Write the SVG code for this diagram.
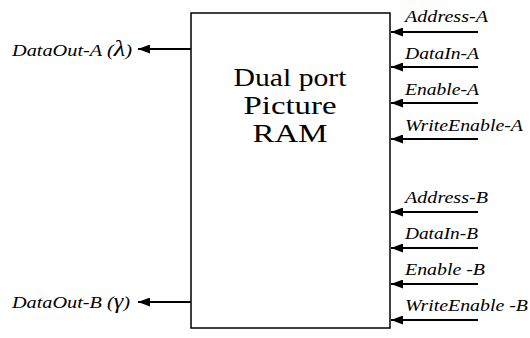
<svg xmlns="http://www.w3.org/2000/svg" width="530" height="338" viewBox="0 0 530 338">
  <style>
    .lbl { font-family: "Liberation Serif", "Times New Roman", serif; font-style: italic; font-size: 17.5px; fill: #000; }
    .title { font-family: "Liberation Serif", "Times New Roman", serif; font-size: 24.5px; fill: #000; text-anchor: middle; }
    .wire { stroke: #000; stroke-width: 2; fill: none; marker-end: url(#head); }
    .box { fill: #fff; stroke: #000; stroke-width: 1.5; }
  </style>
  <defs>
    <marker id="head" viewBox="0 0 12 9" refX="12" refY="4.5" markerWidth="12" markerHeight="9" markerUnits="userSpaceOnUse" orient="auto">
      <path d="M0,0 L12,4.5 L0,9 Z" fill="#000"/>
    </marker>
  </defs>
  <rect width="530" height="338" fill="#fff"/>

  <g id="ram">
    <rect class="box" x="191" y="13" width="199" height="315"/>
    <text class="title" x="290" y="86" textLength="113" lengthAdjust="spacingAndGlyphs">Dual port</text>
    <text class="title" x="290" y="114" textLength="93" lengthAdjust="spacingAndGlyphs">Picture</text>
    <text class="title" x="290" y="142" textLength="75" lengthAdjust="spacingAndGlyphs">RAM</text>
  </g>

  <g id="connectors">
    <line class="wire" x1="478" y1="32" x2="391" y2="32"/>
    <line class="wire" x1="478" y1="67" x2="391" y2="67"/>
    <line class="wire" x1="478" y1="103" x2="391" y2="103"/>
    <line class="wire" x1="478" y1="139" x2="391" y2="139"/>
    <line class="wire" x1="478" y1="212" x2="391" y2="212"/>
    <line class="wire" x1="478" y1="248" x2="391" y2="248"/>
    <line class="wire" x1="478" y1="284" x2="391" y2="284"/>
    <line class="wire" x1="478" y1="320" x2="391" y2="320"/>
    <line class="wire" x1="191" y1="49" x2="138" y2="49"/>
    <line class="wire" x1="191" y1="302" x2="138" y2="302"/>
  </g>

  <g id="port-a-inputs">
    <text class="lbl" x="405" y="22" textLength="83" lengthAdjust="spacingAndGlyphs">Address-A</text>
    <text class="lbl" x="405" y="59" textLength="74" lengthAdjust="spacingAndGlyphs">DataIn-A</text>
    <text class="lbl" x="405" y="95" textLength="74" lengthAdjust="spacingAndGlyphs">Enable-A</text>
    <text class="lbl" x="405" y="131" textLength="118" lengthAdjust="spacingAndGlyphs">WriteEnable-A</text>
  </g>

  <g id="port-b-inputs">
    <text class="lbl" x="405" y="203" textLength="83" lengthAdjust="spacingAndGlyphs">Address-B</text>
    <text class="lbl" x="405" y="239" textLength="73" lengthAdjust="spacingAndGlyphs">DataIn-B</text>
    <text class="lbl" x="405" y="275" textLength="80" lengthAdjust="spacingAndGlyphs">Enable -B</text>
    <text class="lbl" x="405" y="311" textLength="123" lengthAdjust="spacingAndGlyphs">WriteEnable -B</text>
  </g>

  <g id="port-a-output">
    <text class="lbl" x="12" y="56" textLength="120" lengthAdjust="spacingAndGlyphs">DataOut-A (<tspan font-size="23">λ</tspan>)</text>
  </g>

  <g id="port-b-output">
    <text class="lbl" x="12" y="308" textLength="118" lengthAdjust="spacingAndGlyphs">DataOut-B (<tspan font-size="21">γ</tspan>)</text>
  </g>
</svg>
